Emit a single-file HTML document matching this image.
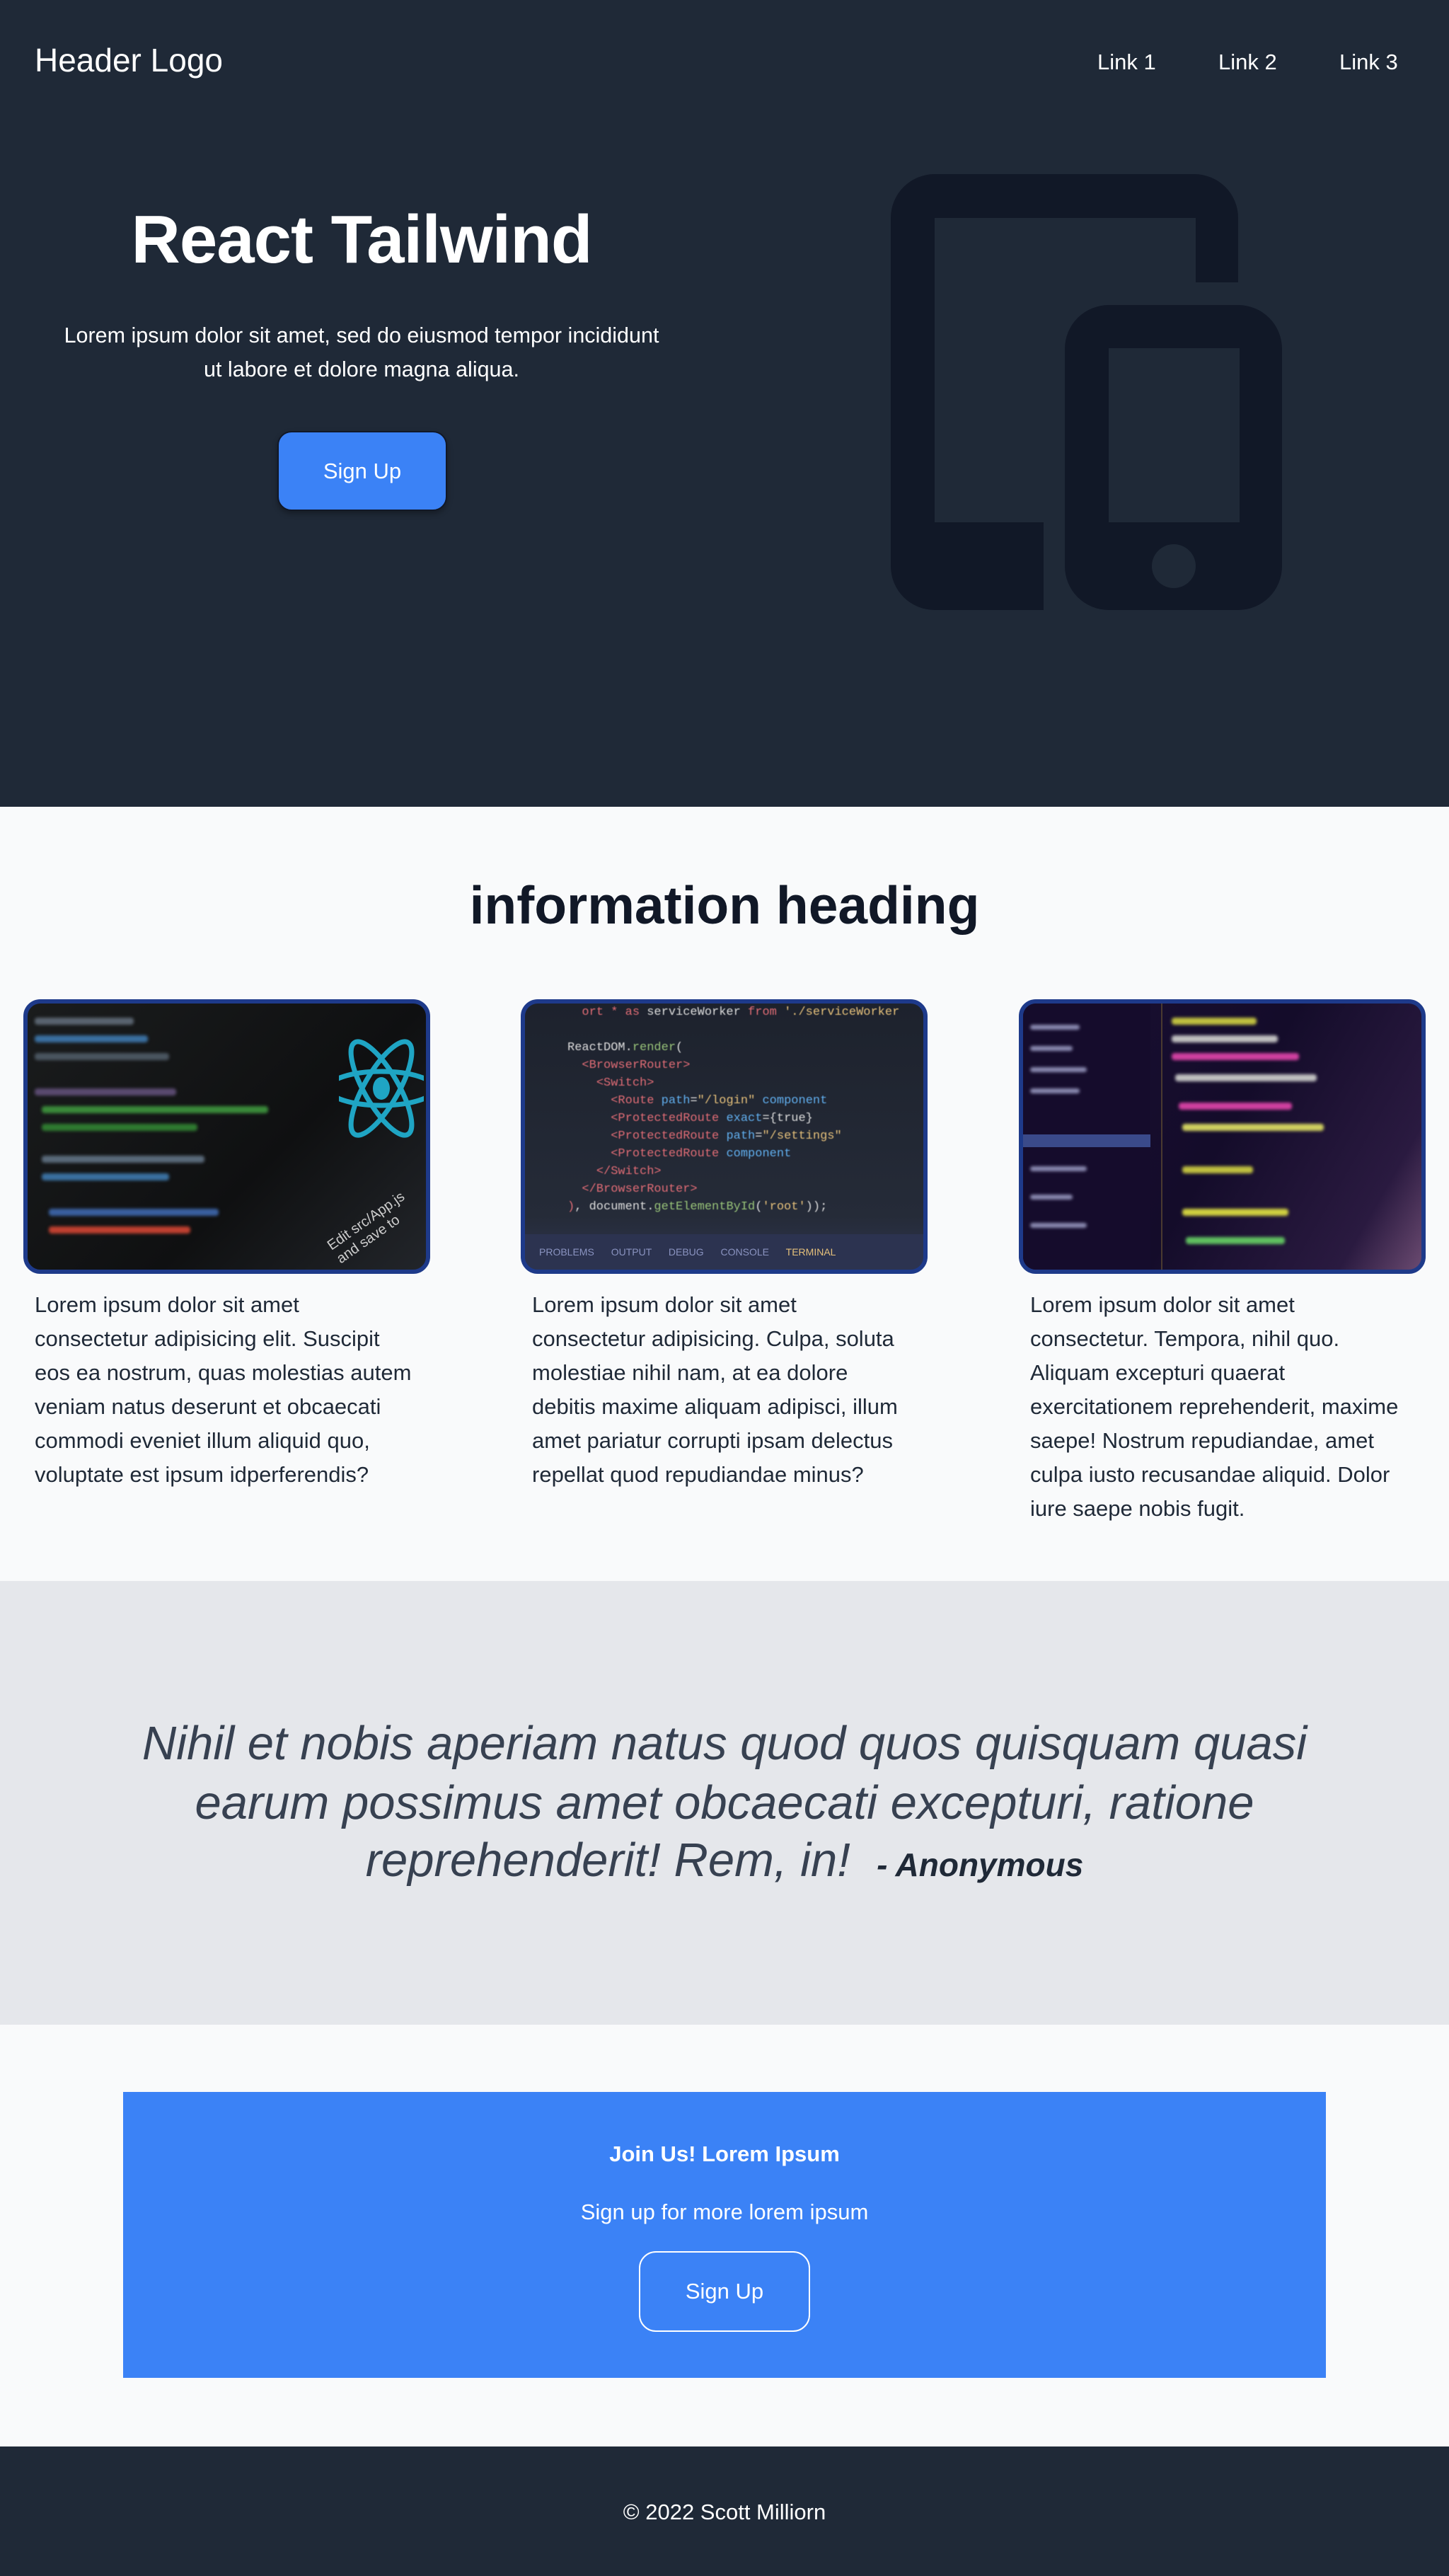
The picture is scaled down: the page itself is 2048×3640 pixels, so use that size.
<!DOCTYPE html>
<html><head><meta charset="utf-8"><style>
*{margin:0;padding:0;box-sizing:border-box}
body{width:2048px;height:3640px;font-family:"Liberation Sans",sans-serif;background:#f9fafb;position:relative;overflow:hidden}
.abs{position:absolute}
.hero{left:0;top:0;width:2048px;height:1140px;background:#1f2937}
.w{color:#fff}
.card{position:absolute;top:1412px;width:575px;height:388px;border:6px solid #1e3a8a;border-radius:24px;overflow:hidden}
.txt{position:absolute;top:1820px;font-size:31px;line-height:48px;color:#1f2937;white-space:nowrap}
.bar{position:absolute;height:10px;border-radius:4px;filter:blur(2px)}
.q{left:0;width:2048px;text-align:center;font-style:italic;font-size:67px;color:#374151;white-space:nowrap;font-weight:300}
</style></head><body>
<div class="abs hero"></div>
<div class="abs w" style="left:49px;top:58px;font-size:46px">Header Logo</div>
<div class="abs w" style="left:1551px;top:70px;font-size:31px">Link 1</div>
<div class="abs w" style="left:1722px;top:70px;font-size:31px">Link 2</div>
<div class="abs w" style="left:1893px;top:70px;font-size:31px">Link 3</div>
<div class="abs w" style="left:0;width:1022px;text-align:center;top:284px;font-size:96px;font-weight:bold;letter-spacing:-1px">React Tailwind</div>
<div class="abs w" style="left:0;width:1022px;text-align:center;top:450px;font-size:30.5px;line-height:48px">Lorem ipsum dolor sit amet, sed do eiusmod tempor incididunt<br>ut labore et dolore magna aliqua.</div>
<div class="abs w" style="left:392px;top:609px;width:240px;height:113px;background:#3b82f6;border:2px solid #111827;border-radius:20px;text-align:center;line-height:109px;font-size:31px;box-shadow:0 4px 8px rgba(0,0,0,.3)">Sign Up</div>
<svg class="abs" style="left:0;top:0" width="2048" height="1140">
<rect x="1259" y="246" width="491" height="616" rx="62" fill="#111827"/>
<rect x="1321" y="308" width="369" height="430" fill="#1f2937"/>
<rect x="1475" y="399" width="360" height="470" fill="#1f2937"/>
<rect x="1505" y="431" width="307" height="431" rx="62" fill="#111827"/>
<rect x="1567" y="492" width="185" height="246" fill="#1f2937"/>
<ellipse cx="1659" cy="800" rx="31" ry="31" fill="#1f2937"/>
</svg>

<div class="abs" style="left:0;width:2048px;text-align:center;top:1236px;font-size:75px;font-weight:bold;color:#111827">information heading</div>

<div class="card" style="left:33px;background:linear-gradient(135deg,#1a1c1d,#0f1011 60%,#22252a)">
 <div class="bar" style="left:10px;top:20px;width:140px;background:#5a6470"></div>
 <div class="bar" style="left:10px;top:45px;width:160px;background:#3a6fa0"></div>
 <div class="bar" style="left:10px;top:70px;width:190px;background:#4a5560"></div>
 <div class="bar" style="left:10px;top:120px;width:200px;background:#5a4a70"></div>
 <div class="bar" style="left:20px;top:145px;width:320px;background:#3a8a3a"></div>
 <div class="bar" style="left:20px;top:170px;width:220px;background:#2f7a30"></div>
 <div class="bar" style="left:20px;top:215px;width:230px;background:#5a6a7a"></div>
 <div class="bar" style="left:20px;top:240px;width:180px;background:#3a70a0"></div>
 <div class="bar" style="left:30px;top:290px;width:240px;background:#3a60a0"></div>
 <div class="bar" style="left:30px;top:315px;width:200px;background:#c04030"></div>
 <svg style="position:absolute;left:440px;top:20px" width="120" height="200"><g fill="none" stroke="#1fa5c4" stroke-width="7"><ellipse cx="60" cy="100" rx="24" ry="75" transform="rotate(-30 60 100)"/><ellipse cx="60" cy="100" rx="24" ry="75" transform="rotate(30 60 100)"/><ellipse cx="60" cy="100" rx="24" ry="75" transform="rotate(90 60 100)"/></g><ellipse cx="60" cy="100" rx="12" ry="16" fill="#1fa5c4"/></svg>
 <div style="position:absolute;left:420px;top:290px;color:#ccc;font-size:20px;transform:rotate(-35deg)">Edit src/App.js and save to</div>
</div>
<div class="card" style="left:736px;background:linear-gradient(180deg,#1d222d,#252b38 80%,#2e3550)">
 <div style="position:absolute;left:60px;top:0;font-family:'Liberation Mono',monospace;font-size:17px;line-height:25px;color:#ddd;filter:blur(.6px);white-space:pre"><span style="color:#e06c75">  ort * as </span>serviceWorker <span style="color:#e06c75">from</span> <span style="color:#e5c07b">'./serviceWorker</span>

ReactDOM.<span style="color:#98c379">render</span>(
  <span style="color:#e06c75">&lt;BrowserRouter&gt;</span>
    <span style="color:#e06c75">&lt;Switch&gt;</span>
      <span style="color:#e06c75">&lt;Route</span> <span style="color:#61afef">path</span>=<span style="color:#e5c07b">"/login"</span> <span style="color:#61afef">component</span>
      <span style="color:#e06c75">&lt;ProtectedRoute</span> <span style="color:#61afef">exact</span>={true}
      <span style="color:#e06c75">&lt;ProtectedRoute</span> <span style="color:#61afef">path</span>=<span style="color:#e5c07b">"/settings"</span>
      <span style="color:#e06c75">&lt;ProtectedRoute</span> <span style="color:#61afef">component</span>
    <span style="color:#e06c75">&lt;/Switch&gt;</span>
  <span style="color:#e06c75">&lt;/BrowserRouter&gt;</span>
<span style="color:#e06c75">)</span>, document.<span style="color:#98c379">getElementById</span>(<span style="color:#e5c07b">'root'</span>));</div>
 <div style="position:absolute;left:0;bottom:0;width:100%;height:50px;background:#2c3350;color:#8a93c0;font-size:14px;line-height:50px;padding-left:20px;word-spacing:20px">PROBLEMS OUTPUT DEBUG&nbsp;CONSOLE <span style="color:#e5c07b">TERMINAL</span></div>
</div>
<div class="card" style="left:1440px;background:linear-gradient(120deg,#1a0f33,#140c2a 50%,#2a1a40 85%,#6a4a70)">
 <div style="position:absolute;left:0;top:0;width:180px;height:100%;background:#150c2c"></div>
 <div class="bar" style="left:10px;top:30px;width:70px;background:#8a8ab0;height:7px"></div>
 <div class="bar" style="left:10px;top:60px;width:60px;background:#8a8ab0;height:7px"></div>
 <div class="bar" style="left:10px;top:90px;width:80px;background:#8a8ab0;height:7px"></div>
 <div class="bar" style="left:10px;top:120px;width:70px;background:#8a8ab0;height:7px"></div>
 <div class="bar" style="left:10px;top:230px;width:80px;background:#8a8ab0;height:7px"></div>
 <div class="bar" style="left:10px;top:270px;width:60px;background:#8a8ab0;height:7px"></div>
 <div class="bar" style="left:10px;top:310px;width:80px;background:#8a8ab0;height:7px"></div>
 <div class="bar" style="left:0;top:185px;width:180px;height:18px;background:#3a4a8a;filter:none;border-radius:0"></div>
 <div style="position:absolute;left:195px;top:0;width:2px;height:100%;background:#4a3a30"></div>
 <div class="bar" style="left:210px;top:20px;width:120px;background:#c0c040"></div>
 <div class="bar" style="left:210px;top:45px;width:150px;background:#c0c0c0"></div>
 <div class="bar" style="left:210px;top:70px;width:180px;background:#d040a0"></div>
 <div class="bar" style="left:215px;top:100px;width:200px;background:#c0c0c0"></div>
 <div class="bar" style="left:220px;top:140px;width:160px;background:#d040a0"></div>
 <div class="bar" style="left:225px;top:170px;width:200px;background:#d0d060"></div>
 <div class="bar" style="left:225px;top:230px;width:100px;background:#c0c040"></div>
 <div class="bar" style="left:225px;top:290px;width:150px;background:#d0d040"></div>
 <div class="bar" style="left:230px;top:330px;width:140px;background:#60c060"></div>
</div>

<div class="txt" style="left:49px">Lorem ipsum dolor sit amet<br>consectetur adipisicing elit. Suscipit<br>eos ea nostrum, quas molestias autem<br>veniam natus deserunt et obcaecati<br>commodi eveniet illum aliquid quo,<br>voluptate est ipsum idperferendis?</div>
<div class="txt" style="left:752px">Lorem ipsum dolor sit amet<br>consectetur adipisicing. Culpa, soluta<br>molestiae nihil nam, at ea dolore<br>debitis maxime aliquam adipisci, illum<br>amet pariatur corrupti ipsam delectus<br>repellat quod repudiandae minus?</div>
<div class="txt" style="left:1456px">Lorem ipsum dolor sit amet<br>consectetur. Tempora, nihil quo.<br>Aliquam excepturi quaerat<br>exercitationem reprehenderit, maxime<br>saepe! Nostrum repudiandae, amet<br>culpa iusto recusandae aliquid. Dolor<br>iure saepe nobis fugit.</div>

<div class="abs" style="left:0;top:2234px;width:2048px;height:627px;background:#e5e7eb"></div>
<div class="abs q" style="top:2425px">Nihil et nobis aperiam natus quod quos quisquam quasi</div>
<div class="abs q" style="top:2509px">earum possimus amet obcaecati excepturi, ratione</div>
<div class="abs q" style="top:2590px">reprehenderit! Rem, in! &nbsp;<span style="font-size:46px;font-weight:bold;color:#1f2937">- Anonymous</span></div>

<div class="abs" style="left:174px;top:2956px;width:1700px;height:404px;background:#3b82f6"></div>
<div class="abs w" style="left:0;width:2048px;text-align:center;top:3026px;font-size:31px;font-weight:bold">Join Us! Lorem Ipsum</div>
<div class="abs w" style="left:0;width:2048px;text-align:center;top:3108px;font-size:31px">Sign up for more lorem ipsum</div>
<div class="abs w" style="left:903px;top:3181px;width:242px;height:114px;border:2px solid #fff;border-radius:24px;text-align:center;line-height:110px;font-size:31px">Sign Up</div>

<div class="abs" style="left:0;top:3457px;width:2048px;height:183px;background:#1f2937"></div>
<div class="abs w" style="left:0;width:2048px;text-align:center;top:3532px;font-size:31px">© 2022 Scott Milliorn</div>
</body></html>
